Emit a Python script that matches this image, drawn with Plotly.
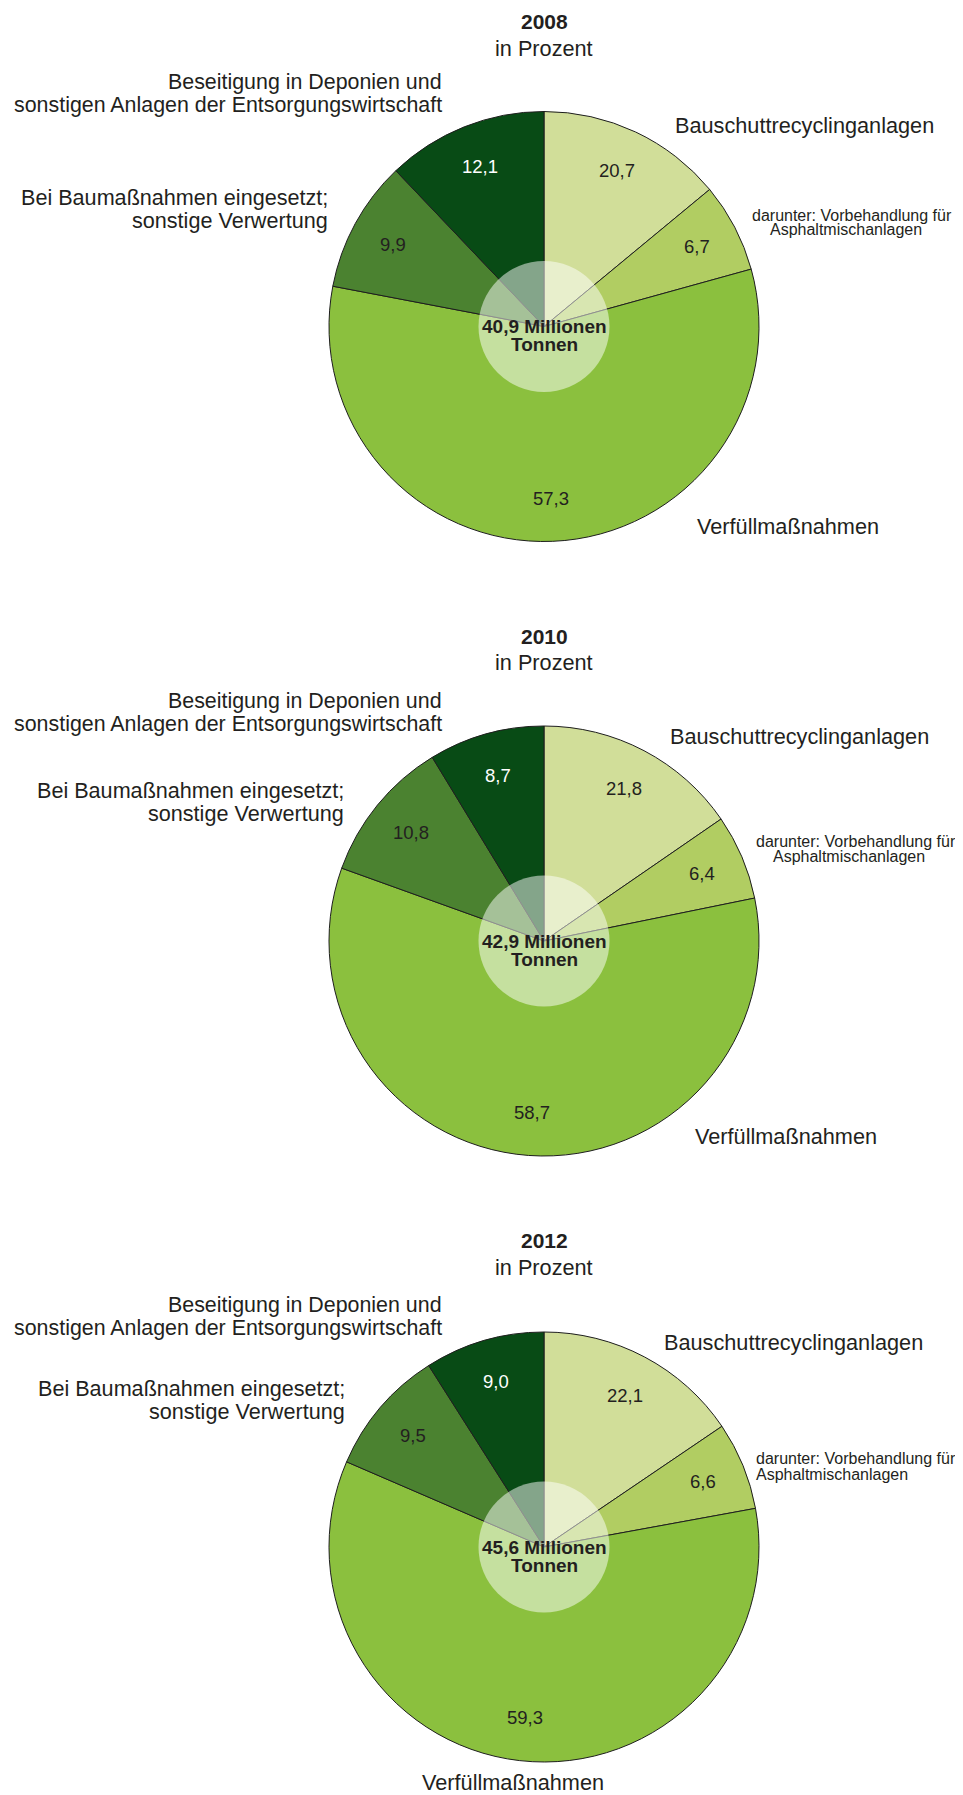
import math
import plotly.graph_objects as go

# ---------------- data ----------------
years = ["2008", "2010", "2012"]
totals = ["40,9", "42,9", "45,6"]            # Millionen Tonnen
bauschutt = [20.7, 21.8, 22.1]               # Bauschuttrecyclinganlagen (incl. darunter)
darunter_asphalt = [6.7, 6.4, 6.6]           # darunter: Vorbehandlung für Asphaltmischanlagen
verfuellung = [57.3, 58.7, 59.3]             # Verfüllmaßnahmen
baumassnahmen = [9.9, 10.8, 9.5]             # Bei Baumaßnahmen eingesetzt; sonstige Verwertung
beseitigung = [12.1, 8.7, 9.0]               # Beseitigung in Deponien ...

categories = [
    "Bauschuttrecyclinganlagen (ohne Asphalt)",
    "darunter: Vorbehandlung für Asphaltmischanlagen",
    "Verfüllmaßnahmen",
    "Bei Baumaßnahmen eingesetzt; sonstige Verwertung",
    "Beseitigung in Deponien und sonstigen Anlagen der Entsorgungswirtschaft",
]

# ---------------- style ----------------
colors = ["#d1de99", "#b1cd62", "#8bc03e", "#4b8230", "#084b15"]
value_colors = ["#231f20", "#231f20", "#231f20", "#231f20", "#ffffff"]
FONT = "Liberation Sans, Arial, Helvetica, sans-serif"
TXT = "#231f20"

PAGE_W, PAGE_H = 963, 1795
OFF = 8                       # default body margin of the html page
W, H = PAGE_W - OFF, PAGE_H - OFF
R = 215
HOLE_R = 65.5
centers = [(544, 326.5), (544, 941), (544, 1547)]
title_pos = [(22, 48), (637, 662), (1240, 1267)]

# outer label positions (page pixels) per year
label_pos = [
    dict(bes=(444, 82, 105), bei=(330, 198, 221), bau=(673, 126),
         dar=((750, 215), (768, 230)), ver=(695, 526, "left")),
    dict(bes=(444, 701, 724), bei=(346, 790, 813), bau=(668, 736),
         dar=((754, 841), (771, 856)), ver=(693, 1136, "left")),
    dict(bes=(444, 1305, 1328), bei=(347, 1388, 1411), bau=(662, 1342),
         dar=((754, 1458), (754, 1474)), ver=(513, 1782, "center")),
]


def px(x):
    return (x - OFF) / W


def py(y):
    return 1 - (y - OFF) / H


def fmt(v):
    return f"{v:.1f}".replace(".", ",")


fig = go.Figure()
annotations = []


def ann(text, x, y, size, xanchor="center", color=TXT, bold=False):
    if bold:
        text = f"<b>{text}</b>"
    annotations.append(dict(
        text=text, x=px(x), y=py(y), xref="paper", yref="paper",
        xanchor=xanchor, yanchor="middle", showarrow=False,
        font=dict(family=FONT, size=size, color=color),
    ))


for i, year in enumerate(years):
    cx, cy = centers[i]
    slice_vals = [
        round(bauschutt[i] - darunter_asphalt[i], 1),
        darunter_asphalt[i],
        verfuellung[i],
        baumassnahmen[i],
        beseitigung[i],
    ]
    shown_vals = [bauschutt[i], darunter_asphalt[i], verfuellung[i],
                  baumassnahmen[i], beseitigung[i]]

    fig.add_trace(go.Pie(
        values=slice_vals,
        labels=categories,
        sort=False,
        direction="clockwise",
        rotation=0,
        marker=dict(colors=colors, line=dict(color="#1e1e1e", width=1)),
        textinfo="none",
        customdata=shown_vals,
        hovertemplate="%{label}: %{customdata}<extra></extra>",
        domain=dict(x=[px(cx - R), px(cx + R)], y=[py(cy + R), py(cy - R)]),
        showlegend=False,
    ))
    # translucent centre disc
    fig.add_trace(go.Pie(
        values=[1],
        labels=["Gesamt"],
        sort=False,
        marker=dict(colors=["rgba(255,255,255,0.5)"], line=dict(width=0)),
        textinfo="none",
        hoverinfo="skip",
        domain=dict(x=[px(cx - HOLE_R), px(cx + HOLE_R)],
                    y=[py(cy + HOLE_R), py(cy - HOLE_R)]),
        showlegend=False,
    ))

    # value labels along slice bisectors
    total = sum(slice_vals)
    cum = 0.0
    for k, v in enumerate(slice_vals):
        theta = math.radians(360.0 * (cum + v / 2) / total)
        cum += v
        lx = cx + 0.8 * R * math.sin(theta)
        ly = cy - 0.8 * R * math.cos(theta)
        ann(fmt(shown_vals[k]), lx, ly, 18.5, color=value_colors[k])

    # centre text
    ann(f"{totals[i]} Millionen", cx, cy, 19, bold=True)
    ann("Tonnen", cx, cy + 18, 19, bold=True)

    # titles
    ty1, ty2 = title_pos[i]
    ann(year, cx, ty1, 21, bold=True)
    ann("in Prozent", cx, ty2, 21.7)

    # outer labels
    lp = label_pos[i]
    bx, by1, by2 = lp["bes"]
    ann("Beseitigung in Deponien und", bx, by1, 21.4, xanchor="right")
    ann("sonstigen Anlagen der Entsorgungswirtschaft", bx, by2, 21.4, xanchor="right")
    bx, by1, by2 = lp["bei"]
    ann("Bei Baumaßnahmen eingesetzt;", bx, by1, 21.6, xanchor="right")
    ann("sonstige Verwertung", bx, by2, 21.6, xanchor="right")
    bx, by = lp["bau"]
    ann("Bauschuttrecyclinganlagen", bx, by, 21.7, xanchor="left")
    (dx1, dy1), (dx2, dy2) = lp["dar"]
    ann("darunter: Vorbehandlung für", dx1, dy1, 16, xanchor="left")
    ann("Asphaltmischanlagen", dx2, dy2, 16, xanchor="left")
    bx, by, anc = lp["ver"]
    ann("Verfüllmaßnahmen", bx, by, 21.7, xanchor=anc)

fig.update_layout(
    width=W, height=H,
    margin=dict(l=0, r=0, t=0, b=0),
    paper_bgcolor="white",
    plot_bgcolor="white",
    showlegend=False,
    annotations=annotations,
    font=dict(family=FONT, color=TXT),
)

fig.write_html("out.html")
